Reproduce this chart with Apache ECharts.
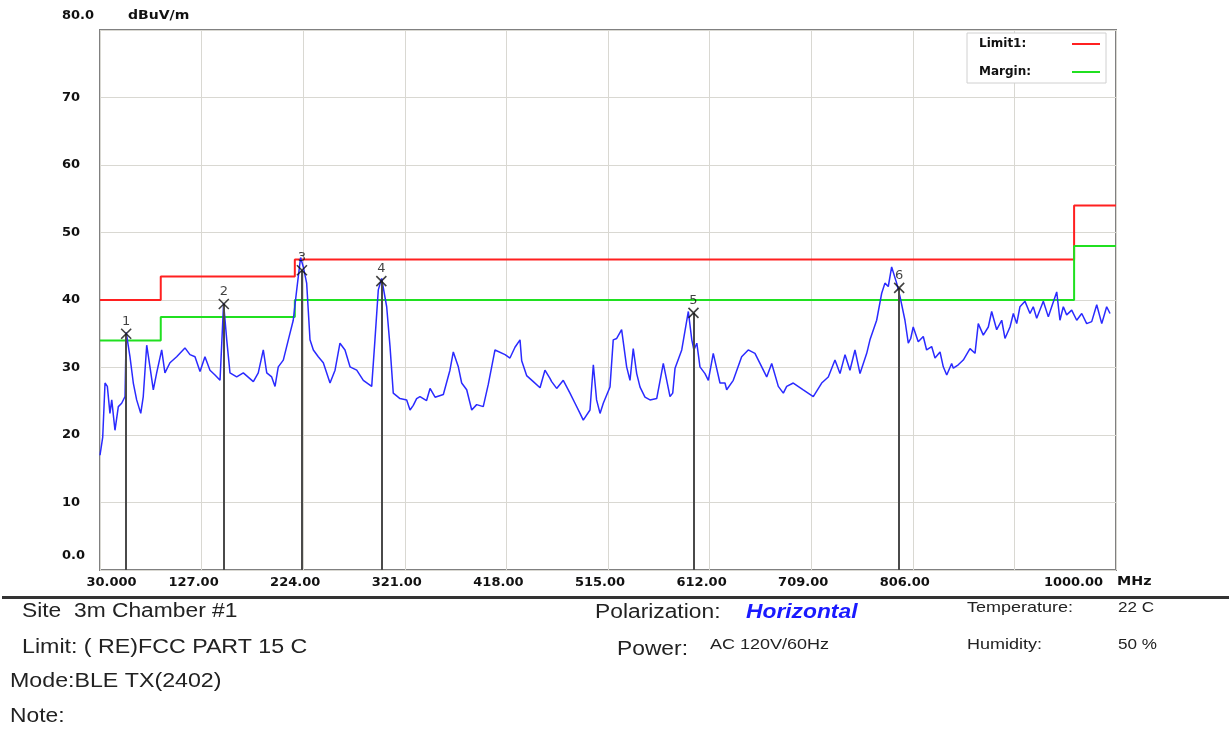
<!DOCTYPE html>
<html>
<head>
<meta charset="utf-8">
<script src="https://cdn.jsdelivr.net/npm/echarts@6/dist/echarts.min.js"></script>
<style>
html,body{margin:0;padding:0;background:#fff;}
#c{width:1229px;height:729px;}
</style>
</head>
<body>
<div id="c"></div>
<script>
// ---- data ----
const freq = [30.0,32.6,34.8,37.0,39.5,41.2,44.3,47.5,50.7,53.9,55.0,58.6,61.8,65.0,68.9,71.3,74.6,77.7,80.9,84.1,88.9,92.0,96.8,103.2,111.1,115.9,120.7,125.5,130.2,135.0,139.8,144.6,148.0,151.0,154.1,160.5,166.8,176.4,181.1,185.9,189.2,193.9,197.1,200.2,205.0,209.8,214.5,217.8,221.5,224.1,227.3,230.5,233.7,238.4,243.2,249.6,254.4,259.1,263.9,268.7,275.1,281.4,289.4,292.5,295.7,298.9,303.7,306.9,310.0,316.4,322.8,326.0,329.1,332.3,335.5,341.8,345.1,349.9,351.5,357.8,364.1,367.3,372.1,375.3,380.1,384.9,389.6,395.9,400.7,407.1,416.7,421.4,426.2,431.0,432.6,437.3,443.7,450.1,454.8,459.6,461.2,466.0,472.3,478.7,483.5,488.3,491.4,497.8,501.0,504.1,507.4,510.5,516.9,520.0,523.3,528.0,532.8,536.0,539.1,542.4,545.6,550.3,555.1,561.5,567.8,574.2,576.8,579.0,585.4,591.7,595.0,597.0,599.8,602.8,607.6,610.8,615.5,621.9,626.7,628.3,634.6,642.6,648.9,655.3,660.1,666.5,671.3,677.6,682.4,685.6,691.9,701.4,711.0,719.0,725.3,731.7,736.5,741.3,746.0,750.8,755.6,762.0,765.1,771.5,776.3,779.4,782.6,785.8,790.6,793.8,798.5,801.7,804.0,806.4,811.2,816.0,819.2,824.0,827.2,832.0,835.1,838.4,843.1,844.7,849.4,854.2,860.6,865.4,868.5,873.3,878.1,881.3,886.1,890.9,894.0,898.8,902.0,905.2,908.3,913.1,917.9,921.0,924.3,930.6,935.4,938.6,943.4,946.5,949.7,952.9,957.7,962.5,967.3,972.0,976.8,981.6,986.4,991.1,994.3,999.1,1000.0];
const level = [17.0,19.7,27.7,27.2,23.2,25.2,20.7,24.2,24.7,25.7,35.2,31.6,27.7,25.2,23.2,25.7,33.3,30.1,26.7,29.2,32.6,29.2,30.7,31.6,32.9,31.9,31.6,29.4,31.6,29.6,28.9,28.1,39.5,34.1,29.2,28.6,29.2,27.9,29.2,32.6,29.2,28.6,27.2,30.1,31.1,34.1,37.0,41.5,46.3,44.9,42.5,34.1,32.6,31.6,30.7,27.7,29.6,33.6,32.6,30.1,29.6,28.1,27.2,34.1,41.5,43.2,39.0,33.1,26.2,25.4,25.2,23.7,24.4,25.4,25.7,25.1,26.9,25.6,25.7,26.0,29.6,32.3,30.1,27.7,26.7,23.7,24.5,24.2,27.5,32.6,31.9,31.4,33.0,34.1,31.0,28.8,27.9,27.0,29.6,28.4,27.9,26.9,28.1,26.2,24.7,23.2,22.2,23.7,30.4,25.2,23.2,24.7,27.1,34.1,34.3,35.6,30.1,28.1,32.8,29.1,27.1,25.6,25.2,25.4,30.6,25.7,26.2,29.9,32.6,38.3,34.1,32.6,33.6,30.1,29.1,28.1,32.1,27.7,27.7,26.7,28.1,31.6,32.6,32.1,30.6,28.6,30.6,27.2,26.2,27.2,27.7,26.7,25.7,27.7,28.6,31.1,29.1,31.9,29.6,32.6,29.1,32.1,34.1,37.0,41.0,42.5,42.0,44.9,42.5,40.5,37.0,33.6,34.3,36.0,33.8,34.6,32.6,33.1,31.4,32.3,30.1,28.9,30.6,29.9,30.4,31.1,32.8,32.1,36.5,34.8,36.0,38.3,35.6,37.0,34.3,36.0,38.0,36.5,39.0,39.8,38.0,39.0,37.3,39.8,37.5,39.0,41.2,37.0,39.0,37.8,38.5,37.0,38.0,36.5,36.8,39.3,36.5,39.0,38.0];

const limitFreq  = [30, 88, 88, 216, 216, 960, 960, 1000];
const limitLevel = [40, 40, 43.5, 43.5, 46, 46, 54, 54];
const marginLevel = [34, 34, 37.5, 37.5, 40, 40, 48, 48];

const markerNo    = ['1','2','3','4','5','6'];
const markerFreq  = [55.0, 148.2, 222.8, 298.6, 596.6, 793.0];
const markerLevel = [35.0, 39.4, 44.4, 42.8, 38.1, 41.8];

const xTickLabels = ['30.000','127.00','224.00','321.00','418.00','515.00','612.00','709.00','806.00','','1000.00'];
const yTickLabels = ['0.0','10','20','30','40','50','60','70','80.0'];

// ---- chart ----
const AX = 'DejaVu Sans';
const chart = echarts.init(document.getElementById('c'));
const axText = {fontFamily: AX, fontWeight: 'bold', fontSize: 13, color: '#111'};

function txt(x, y, text, font, fill, sx) {
  return {type: 'text', x: x, y: y, scaleX: sx || 1, style: {text: text, font: font, fill: fill || '#222', verticalAlign: 'middle'}};
}

const option = {
  animation: false,
  backgroundColor: '#fff',
  grid: {left: 100, top: 30, width: 1016, height: 540, show: true, borderColor: '#808080', borderWidth: 2, backgroundColor: 'transparent'},
  legend: {
    data: ['Limit1:', 'Margin:'],
    orient: 'vertical', left: 967, top: 33,
    align: 'right',
    icon: 'rect', itemWidth: 28, itemHeight: 2, itemGap: 16,
    padding: [5, 6, 5, 12],
    backgroundColor: '#fff', borderColor: '#d0d0d0', borderWidth: 1,
    formatter: '{a|{name}}',
    textStyle: {rich: {a: {width: 88, align: 'left', fontFamily: AX, fontWeight: 'bold', fontSize: 12, color: '#111', lineHeight: 14}}}
  },
  xAxis: {
    type: 'value', min: 30, max: 1000, interval: 97,
    axisLine: {show: false}, axisTick: {show: false},
    splitLine: {show: true, lineStyle: {color: '#d9d8d2', width: 1}},
    axisLabel: Object.assign({
      margin: 6,
      formatter: function (v) {
        const i = Math.round((v - 30) / 97);
        const t = xTickLabels[i];
        if (!t) return '';
        if (i === 0) return '{f|' + t + '}';
        if (i === xTickLabels.length - 1) return '{l|' + t + '}';
        return '{n|' + t + '}';
      },
      rich: {
        n: Object.assign({padding: [0, 16, 0, 0]}, axText),
        f: Object.assign({padding: [0, 0, 0, 23]}, axText),
        l: Object.assign({padding: [0, 85, 0, 0]}, axText)
      }
    }, axText)
  },
  yAxis: {
    type: 'value', min: 0, max: 80, interval: 10,
    axisLine: {show: false}, axisTick: {show: false},
    splitLine: {show: true, lineStyle: {color: '#d9d8d2', width: 1}},
    axisLabel: Object.assign({
      align: 'left', margin: 38,
      formatter: function (v) {
        const i = Math.round(v / 10);
        const t = yTickLabels[i];
        if (i === 0 || i === yTickLabels.length - 1) return '{e|' + t + '}';
        return '{m|' + t + '}';
      },
      rich: {
        e: Object.assign({padding: [0, 0, 28, 0]}, axText),
        m: Object.assign({}, axText)
      }
    }, axText)
  },
  series: [
    {
      name: 'Trace', type: 'line', showSymbol: false, z: 3,
      data: freq.map((f, i) => [f, level[i]]),
      lineStyle: {color: '#2a2aff', width: 1.5}
    },
    {
      name: 'Limit1:', type: 'line', showSymbol: false, z: 2,
      data: limitFreq.map((f, i) => [f, limitLevel[i]]),
      itemStyle: {color: '#ff2020'},
      lineStyle: {color: '#ff2020', width: 2}
    },
    {
      name: 'Margin:', type: 'line', showSymbol: false, z: 2,
      data: limitFreq.map((f, i) => [f, marginLevel[i]]),
      itemStyle: {color: '#20e020'},
      lineStyle: {color: '#20e020', width: 2}
    },
    {
      name: 'Markers', type: 'scatter', z: 5,
      symbol: 'path://M0,0L10,10M10,0L0,10', symbolSize: 10,
      itemStyle: {color: 'transparent', borderColor: '#111', borderWidth: 1.6},
      data: markerFreq.map((f, i) => ({value: [f, markerLevel[i]], name: markerNo[i]})),
      label: {show: true, position: 'top', distance: 0, formatter: '{b}', fontFamily: AX, fontSize: 13, color: '#111'},
      markLine: {
        silent: true, symbol: 'none', label: {show: false},
        lineStyle: {color: '#4a4a4a', width: 2, type: 'solid'},
        data: markerFreq.map((f, i) => [{coord: [f, 0]}, {coord: [f, markerLevel[i]]}])
      }
    }
  ],
  graphic: [
    txt(128, 16, 'dBuV/m', 'bold 13px "DejaVu Sans"', '#111', 1.08),
    txt(1117, 582, 'MHz', 'bold 13px "DejaVu Sans"', '#111', 1.1),
    {type: 'rect', shape: {x: 2, y: 596, width: 1227, height: 3}, style: {fill: '#333'}},
    txt(22, 611, 'Site  3m Chamber #1', '20px "Liberation Sans"', '#222', 1.14),
    txt(22, 647, 'Limit: ( RE)FCC PART 15 C', '20px "Liberation Sans"', '#222', 1.16),
    txt(10, 681, 'Mode:BLE TX(2402)', '20px "Liberation Sans"', '#222', 1.16),
    txt(10, 716, 'Note:', '20px "Liberation Sans"', '#222', 1.14),
    txt(595, 612, 'Polarization:', '20px "Liberation Sans"', '#222', 1.14),
    txt(746, 612, 'Horizontal', 'italic bold 20px "Liberation Sans"', '#1a1aff', 1.14),
    txt(617, 649, 'Power:', '20px "Liberation Sans"', '#222', 1.14),
    txt(710, 645, 'AC 120V/60Hz', '15px "Liberation Sans"', '#222', 1.2),
    txt(967, 608, 'Temperature:', '15px "Liberation Sans"', '#222', 1.2),
    txt(1118, 608, '22 C', '15px "Liberation Sans"', '#222', 1.14),
    txt(967, 645, 'Humidity:', '15px "Liberation Sans"', '#222', 1.2),
    txt(1118, 645, '50 %', '15px "Liberation Sans"', '#222', 1.14)
  ]
};
chart.setOption(option);
</script>
</body>
</html>
